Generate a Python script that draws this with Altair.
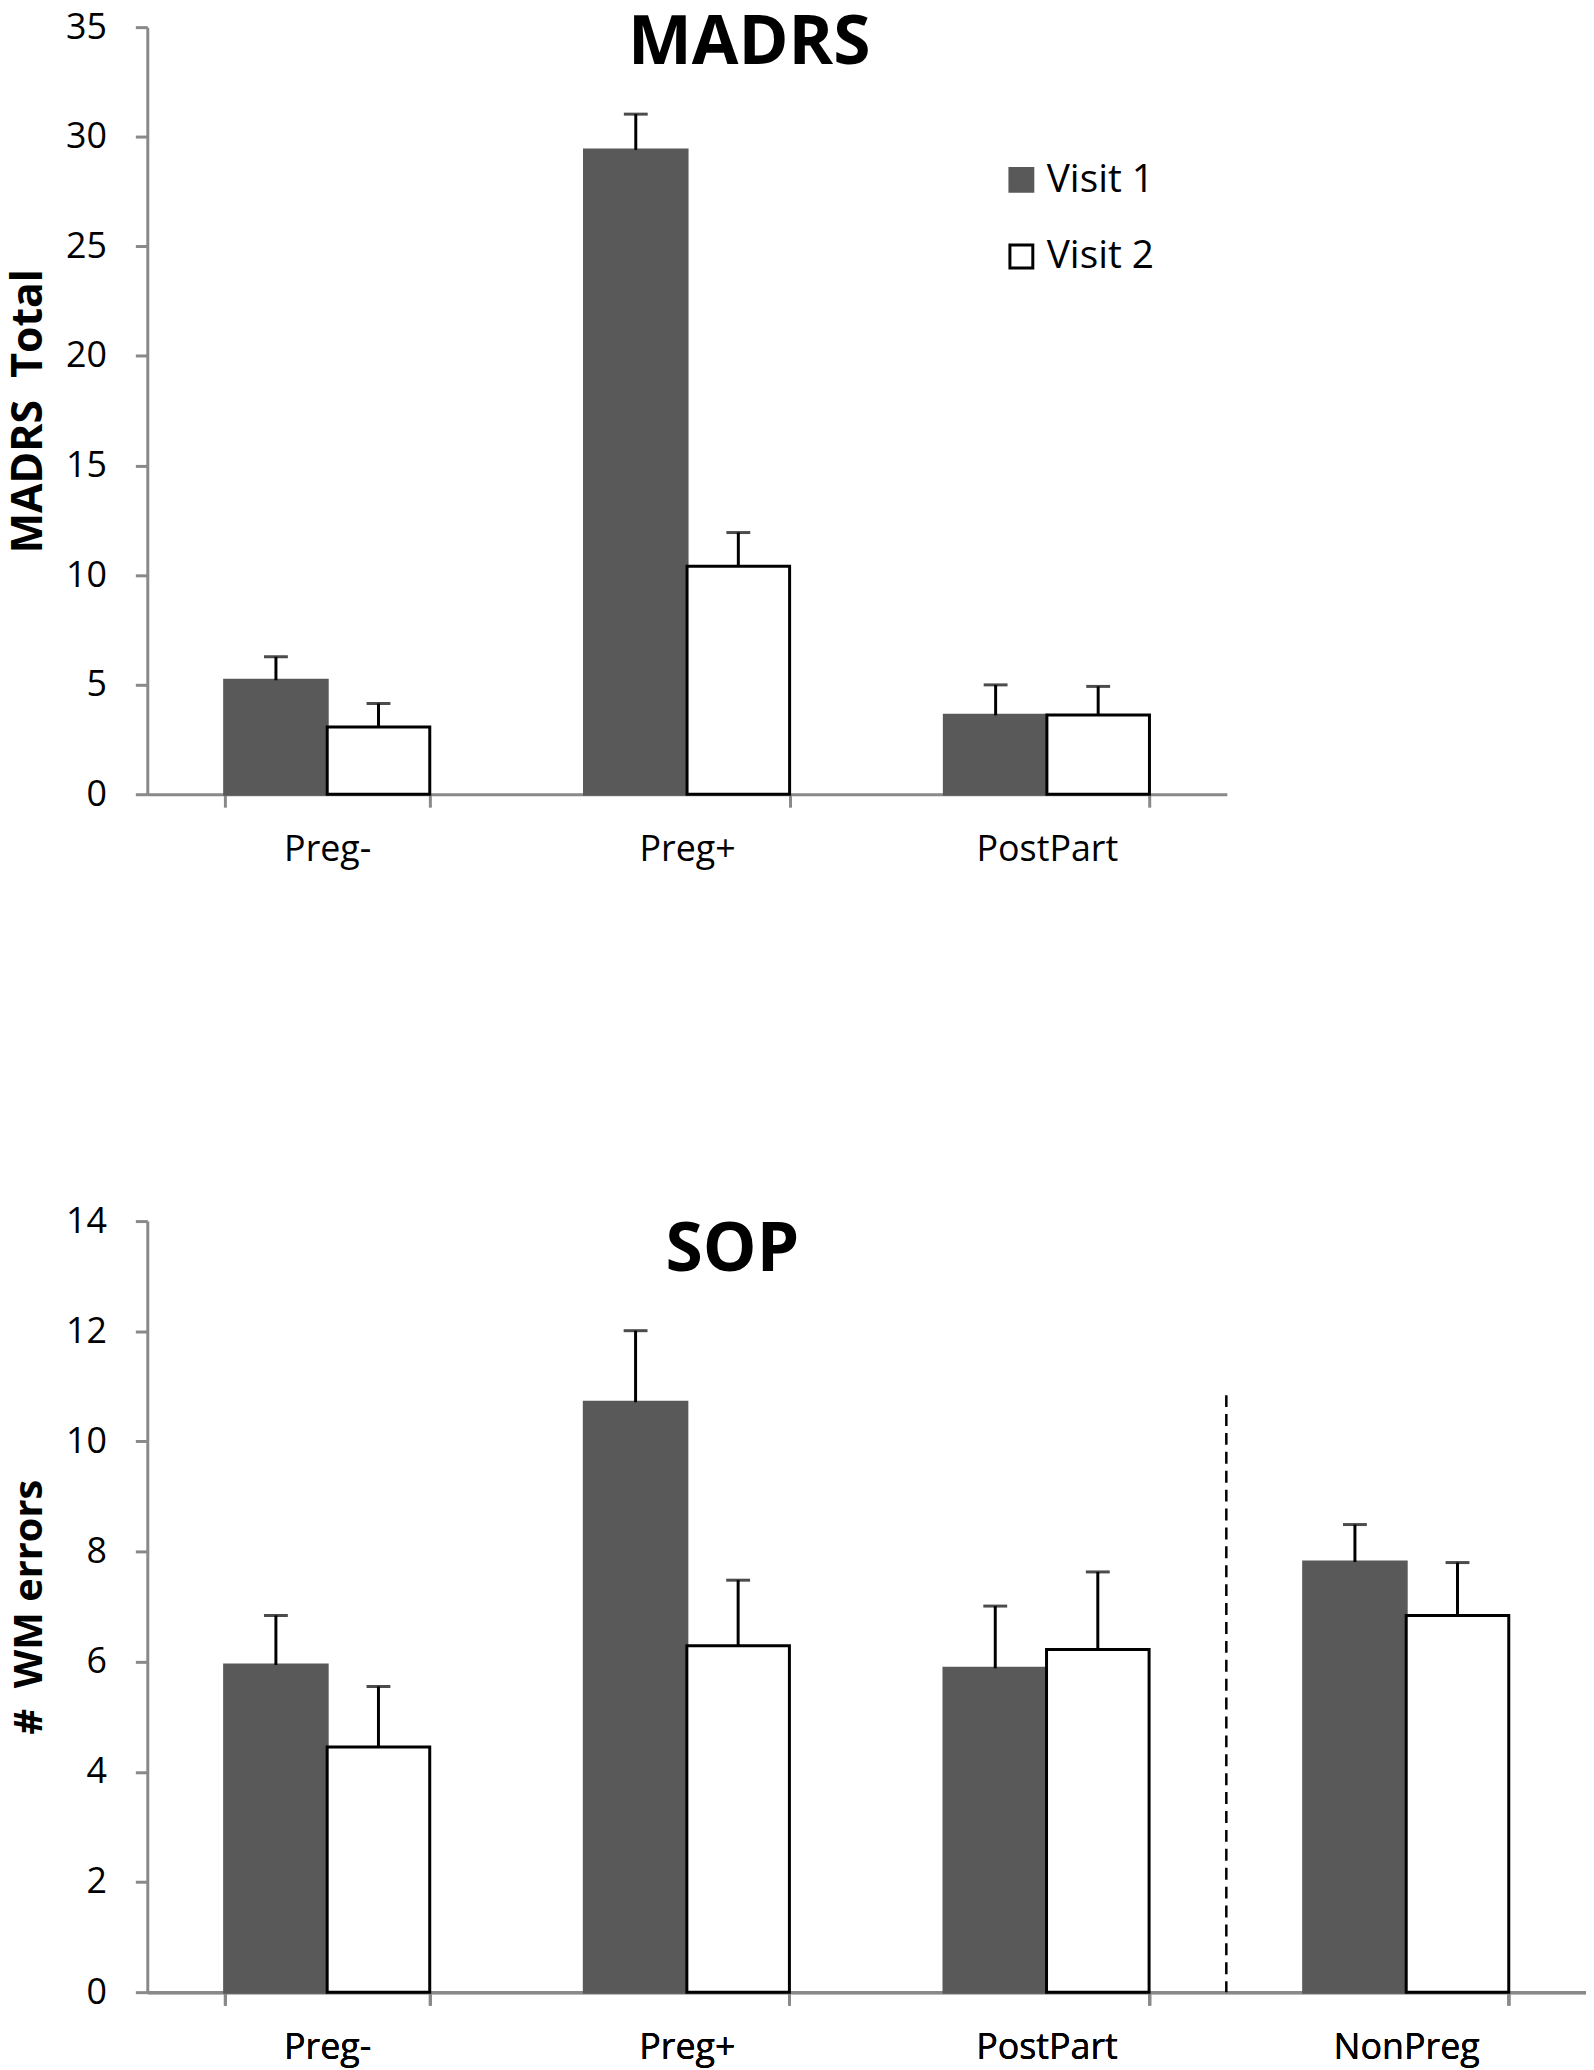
import altair as alt
import pandas as pd

FONT = "Open Sans"

visits = ["Visit 1", "Visit 2"]

# MADRS panel
madrs_cats = ["Preg-", "Preg+", "PostPart"]
madrs_v1 = [5.2, 29.4, 3.6]
madrs_v1_err = [1.07, 1.63, 1.39]
madrs_v2 = [3.07, 10.4, 3.62]
madrs_v2_err = [1.07, 1.54, 1.30]
madrs_ticks = [0, 5, 10, 15, 20, 25, 30, 35]

# SOP panel
sop_cats = ["Preg-", "Preg+", "PostPart", "NonPreg"]
sop_v1 = [5.94, 10.71, 5.88, 7.81]
sop_v1_err = [0.90, 1.30, 1.13, 0.68]
sop_v2 = [4.45, 6.29, 6.22, 6.84]
sop_v2_err = [1.10, 1.19, 1.41, 0.96]
sop_ticks = [0, 2, 4, 6, 8, 10, 12, 14]

# dashed divider between PostPart and NonPreg (in group units) and its top
divider_pos = [3]
divider_top = [10.84]

fill_range = ["#595959", "#ffffff"]
stroke_range = ["#595959", "#000000"]


def long_df(cats, v1, e1, v2, e2):
    rows = []
    for c, a, ea, b, eb in zip(cats, v1, e1, v2, e2):
        rows.append({"cat": c, "visit": visits[0], "value": a, "upper": a + ea})
        rows.append({"cat": c, "visit": visits[1], "value": b, "upper": b + eb})
    return pd.DataFrame(rows)


def panel_layers(cats, v1, e1, v2, e2, ticks, ytitle, ytitle_size, show_legend):
    df = long_df(cats, v1, e1, v2, e2)
    ymax = ticks[-1]
    x_enc = alt.X(
        "cat:N", sort=cats,
        scale=alt.Scale(domain=cats, paddingInner=0.43, paddingOuter=0.215),
        axis=alt.Axis(title=None, labelAngle=0, tickBand="extent", labelPadding=26,
                      orient="bottom"),
    )
    xo_enc = alt.XOffset("visit:N", sort=visits,
                         scale=alt.Scale(domain=visits, paddingInner=0, paddingOuter=0))
    y_scale = alt.Scale(domain=[0, ymax], nice=False)
    y_axis = alt.Axis(values=ticks, format="d", title=ytitle, labelPadding=29, tickSize=12,
                      titleFontSize=ytitle_size, titleFontWeight="bold",
                      titleX=-106, titleBaseline="alphabetic", titleAlign="center",
                      titleAngle=270)
    if show_legend:
        leg = alt.Legend(title=None, orient="none", legendX=859, legendY=134,
                         symbolType="square", symbolSize=529, symbolStrokeWidth=3,
                         labelFontSize=39, labelFont=FONT, labelColor="black",
                         labelOffset=6, rowPadding=37)
    else:
        leg = None
    base = alt.Chart(df).encode(x=x_enc, xOffset=xo_enc)
    bars = base.mark_bar(strokeWidth=3).encode(
        y=alt.Y("value:Q", scale=y_scale, axis=y_axis),
        fill=alt.Fill("visit:N", sort=visits,
                      scale=alt.Scale(domain=visits, range=fill_range), legend=leg),
        stroke=alt.Stroke("visit:N", sort=visits,
                          scale=alt.Scale(domain=visits, range=stroke_range), legend=leg),
    )
    err = base.mark_rule(color="black", strokeWidth=3).encode(
        y=alt.Y("value:Q", scale=y_scale), y2="upper:Q")
    cap = base.mark_tick(color="black", thickness=3, size=24).encode(
        y=alt.Y("upper:Q", scale=y_scale))
    return [bars, err, cap]


def title_mark(text, cx, by):
    return alt.Chart(pd.DataFrame({"t": [text]})).mark_text(
        font=FONT, fontSize=68, fontWeight="bold", color="black",
        align="center", baseline="alphabetic",
    ).encode(text="t:N", x=alt.value(cx), y=alt.value(by))


top = alt.layer(
    *panel_layers(madrs_cats, madrs_v1, madrs_v1_err, madrs_v2, madrs_v2_err,
                  madrs_ticks, "MADRS\u00a0 Total", 43, True),
    title_mark("MADRS", 605, 37),
).properties(width=1085, height=771)

div_df = pd.DataFrame({"pos": divider_pos, "top": divider_top})
divider = alt.Chart(div_df).mark_rule(color="black", strokeWidth=2.5, strokeDash=[12, 7]).encode(
    x=alt.X("pos:Q", scale=alt.Scale(domain=[0, len(sop_cats)], nice=False), axis=None),
    y=alt.Y("top:Q", scale=alt.Scale(domain=[0, sop_ticks[-1]], nice=False)),
    y2=alt.datum(0),
)
bottom = alt.layer(
    *panel_layers(sop_cats, sop_v1, sop_v1_err, sop_v2, sop_v2_err,
                  sop_ticks, "#\u00a0 WM errors", 40, False),
    divider,
    title_mark("SOP", 588, 50),
).resolve_scale(x="independent").properties(width=1446, height=775)

chart = alt.vconcat(top, bottom, spacing=337).resolve_scale(
    fill="independent", stroke="independent", y="independent", x="independent"
).resolve_legend(fill="independent", stroke="independent").properties(
    padding={"left": 0, "top": -4, "right": 0, "bottom": 0},
    background="white",
).configure_view(stroke=None).configure_axis(
    domainColor="#898989", domainWidth=3, tickColor="#898989", tickWidth=3, tickSize=13,
    labelFont=FONT, labelFontSize=36, labelColor="black", titleFont=FONT,
    titleColor="black", grid=False,
)

chart.save("out.html", embed_options={"renderer": "svg", "actions": False})
